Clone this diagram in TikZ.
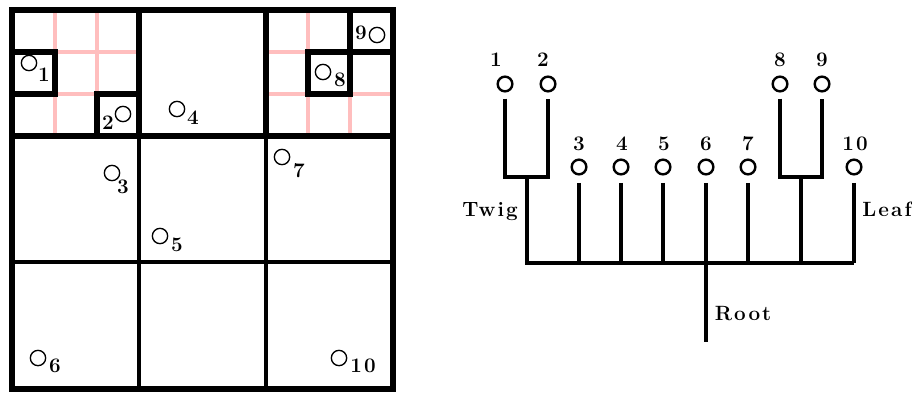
\documentclass[tikz,border=0pt]{standalone}
\usepackage{fontspec}
\setmainfont{Latin Modern Roman}[LetterSpace=10]
\usetikzlibrary{calc}
\definecolor{gridpink}{RGB}{255,190,190}
\begin{document}
\begin{tikzpicture}[x=0.75pt,y=-0.75pt,
  pt/.style={circle,draw,line width=1pt,minimum size=11.5pt,inner sep=0pt},
  tpt/.style={circle,draw,line width=1.8pt,minimum size=11pt,inner sep=0pt},
  lbl/.style={font=\fontsize{15.5}{17}\selectfont\bfseries,inner sep=0pt,anchor=base},
  pinkline/.style={draw=gridpink,line width=2.5pt},
  gridline/.style={line width=2.4pt},
  heavyline/.style={line width=3.8pt},
  tline/.style={line width=2.4pt},
  tleaf/.style={line width=2.4pt,shorten <=5.5pt},
  tpair/.style={line width=2.4pt,shorten <=4.5pt,shorten >=4.5pt}]
\useasboundingbox (0,0) rectangle (912,392);
% ---------- left: subdivided grid ----------
\draw[pinkline] (55,10) -- (55,136) (97,10) -- (97,136) (12,52) -- (139,52) (12,94) -- (139,94);
\draw[pinkline] (308,10) -- (308,136) (350,10) -- (350,136) (266,52) -- (393,52) (266,94) -- (393,94);
\draw[gridline] (139,136) -- (139,389) (266,136) -- (266,389) (12,262) -- (393,262);
\draw[heavyline] (139,10) -- (139,136) (266,10) -- (266,136) (12,136) -- (393,136);
\draw[heavyline] (12,52) rectangle (55,94);
\draw[heavyline] (97,94) rectangle (139,136);
\draw[heavyline] (308,52) rectangle (350,94);
\draw[heavyline] (350,10) rectangle (393,52);
\draw[heavyline] (12,10) rectangle (393,389);
% points
\node[pt] (p1) at (29,63) {};   \node[lbl] (l1) at (44,82) {1};
\node[pt] (p2) at (123,114) {}; \node[lbl] (l2) at (108,129) {2};
\node[pt] (p3) at (112,173) {}; \node[lbl] (l3) at (123,193) {3};
\node[pt] (p4) at (177,109) {}; \node[lbl] (l4) at (193,124) {4};
\node[pt] (p5) at (160,236) {}; \node[lbl] (l5) at (177,251) {5};
\node[pt] (p6) at (38,358) {};  \node[lbl] (l6) at (55,372) {6};
\node[pt] (p7) at (282,157) {}; \node[lbl] (l7) at (299,177) {7};
\node[pt] (p8) at (323,72) {};  \node[lbl] (l8) at (340,87) {8};
\node[pt] (p9) at (377,35) {};  \node[lbl] (l9) at (361,40) {9};
\node[pt] (p10) at (339,358) {};\node[lbl] (l10) at (363,372) {10};
% ---------- right: tree ----------
\node[tpt] (t1) at (505,84) {};  \node[lbl] (tl1) at (496,67) {1};
\node[tpt] (t2) at (548,84) {};  \node[lbl] (tl2) at (543,67) {2};
\node[tpt] (t8) at (780,84) {};  \node[lbl] (tl8) at (780,67) {8};
\node[tpt] (t9) at (822,84) {};  \node[lbl] (tl9) at (822,67) {9};
\node[tpt] (t3) at (579,167) {}; \node[lbl] (tl3) at (579,151) {3};
\node[tpt] (t4) at (621,167) {}; \node[lbl] (tl4) at (622,151) {4};
\node[tpt] (t5) at (663,167) {}; \node[lbl] (tl5) at (664,151) {5};
\node[tpt] (t6) at (706,167) {}; \node[lbl] (tl6) at (706,151) {6};
\node[tpt] (t7) at (748,167) {}; \node[lbl] (tl7) at (748,151) {7};
\node[tpt] (t10) at (854,167) {};\node[lbl] (tl10) at (855,151) {10};
\coordinate (j12) at (527,177);
\coordinate (j89) at (801,177);
\coordinate (b12) at (527,263);
\coordinate (b10) at (854,263);
\coordinate (rootend) at (706,342);
\draw[tpair] (t1.south) |- (j12) -| (t2.south);
\draw[tpair] (t8.south) |- (j89) -| (t9.south);
\draw[tline] (j12) -- (b12) -- (b10);
\draw[tline] (j89) -- (j89 |- b10);
\draw[tleaf] (t3.south) -- (t3 |- b10);
\draw[tleaf] (t4.south) -- (t4 |- b10);
\draw[tleaf,line width=3pt] (t5.south) -- (t5 |- b10);
\draw[tleaf] (t6.south) -- (rootend);
\draw[tleaf] (t7.south) -- (t7 |- b10);
\draw[tleaf,line width=3pt] (t10.south) -- (b10);
\node[lbl] (twig) at (490,216) {Twig};
\node[lbl] (leaf) at (887,216) {Leaf};
\node[lbl] (root) at (743,320) {Root};
\end{tikzpicture}
\end{document}
